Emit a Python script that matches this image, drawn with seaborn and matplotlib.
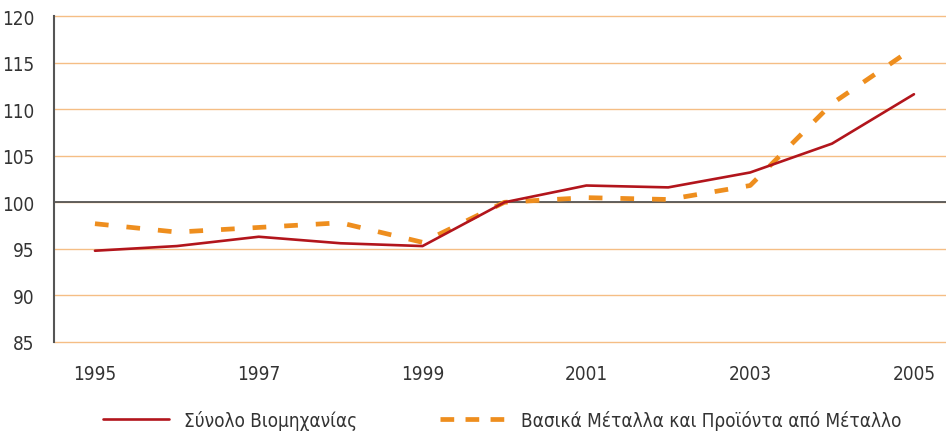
import matplotlib
matplotlib.use("Agg")
import matplotlib.pyplot as plt
from matplotlib import font_manager
import seaborn as sns
import pandas as pd

# Δείκτες παραγωγής 1995-2005
years = [1995, 1996, 1997, 1998, 1999, 2000, 2001, 2002, 2003, 2004, 2005]
synolo = [94.8, 95.3, 96.3, 95.6, 95.3, 100.0, 101.8, 101.6, 103.2, 106.3, 111.6]
metalla = [97.7, 96.8, 97.3, 97.8, 95.7, 100.0, 100.5, 100.3, 101.8, 110.6, 116.6]
label_synolo = "Σύνολο Βιομηχανίας"
label_metalla = "Βασικά Μέταλλα και Προϊόντα από Μέταλλο"
year_labels = ["1995", "1997", "1999", "2001", "2003", "2005"]

sns.set_style("white")

# στενή γραμματοσειρά αν υπάρχει, αλλιώς μικρότερο μέγεθος
condensed = [f for f in font_manager.fontManager.ttflist
             if f.name == "DejaVu Sans" and f.stretch == "condensed"]
if condensed:
    plt.rcParams['font.family'] = ['DejaVu Sans']
    plt.rcParams['font.stretch'] = 'condensed'
    fs = 13.6
else:
    plt.rcParams['font.family'] = ['Open Sans', 'DejaVu Sans']
    fs = 12.5

df = pd.DataFrame({"year": years, "synolo": synolo, "metalla": metalla})

fig = plt.figure(figsize=(9.46, 4.35), dpi=100)
ax = fig.add_axes([54 / 946, 1 - 343 / 435, 1 - 54 / 946, (343 - 17) / 435])

sns.lineplot(data=df, x="year", y="synolo", ax=ax, color="#B2151C", lw=1.9,
             label=label_synolo, zorder=4)
sns.lineplot(data=df, x="year", y="metalla", ax=ax, color="#EE8E1E", lw=3.4,
             label=label_metalla, zorder=3)
ax.lines[1].set_dashes((2.9, 3.8))

ax.set_ylim(85, 120)
ax.set_xlim(1994.5, 1994.5 + (946 - 54) / 81.9)
ax.set_yticks(range(85, 121, 5))
ax.yaxis.grid(True, color="#F5BE85", lw=1)
for gl in ax.get_ygridlines():
    gl.set_clip_on(False)
ax.xaxis.grid(False)
ax.set_axisbelow(True)
ax.tick_params(axis="y", length=0, pad=14, labelsize=fs, labelcolor="#333333")
ax.set_xlabel("")
ax.set_ylabel("")

# άξονας x στο 100 με γραμμές διαχωρισμού ετών
ax.spines["bottom"].set_position(("data", 100))
ax.spines["bottom"].set_color("#555555")
ax.spines["bottom"].set_linewidth(1.3)
ax.set_xticks([y + 0.5 for y in years[:-1]])
ax.set_xticklabels([])
ax.tick_params(axis="x", direction="in", length=6, width=1.2, color="#333333")
ax.spines["left"].set_color("#555555")
ax.spines["left"].set_linewidth(1.5)
ax.spines["top"].set_visible(False)
ax.spines["right"].set_visible(False)

sec = ax.secondary_xaxis(0)
sec.set_xticks([int(y) for y in year_labels], year_labels)
sec.tick_params(length=0, pad=16, labelsize=fs, labelcolor="#333333")
sec.spines["bottom"].set_visible(False)

ax.get_legend().remove()
leg = fig.legend(*ax.get_legend_handles_labels(), loc="center",
                 bbox_to_anchor=(0.531, 1 - 421 / 435), ncol=2, frameon=False,
                 handlelength=3.5, columnspacing=4.4, handletextpad=0.8,
                 fontsize=fs, labelcolor="#333333")
leg.get_lines()[1].set_dashes((2.9, 2.4))

fig.savefig("out.png", dpi=100)
